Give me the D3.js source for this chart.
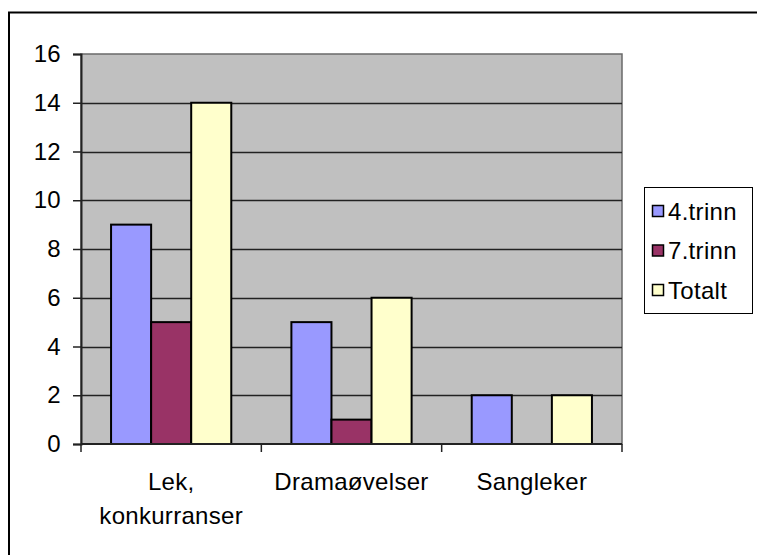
<!DOCTYPE html>
<html>
<head>
<meta charset="utf-8">
<script src="https://cdn.jsdelivr.net/npm/d3@7"></script>
<style>
  body { margin: 0; background: #fff; }
  svg { display: block; font-family: "Liberation Sans", Arial, sans-serif; }
  text { letter-spacing: 0.3px; }
</style>
</head>
<body>
<script>
// data
const categories = ["Lek, konkurranser", "Dramaøvelser", "Sangleker"];
const categoryLines = [["Lek,", "konkurranser"], ["Dramaøvelser"], ["Sangleker"]];
const seriesNames = ["4.trinn", "7.trinn", "Totalt"];
const trinn4 = [9, 5, 2];
const trinn7 = [5, 1, 0];
const totalt = [14, 6, 2];
const yTicks = [0, 2, 4, 6, 8, 10, 12, 14, 16];
const colors = ["#9999FF", "#993366", "#FFFFCC"];

const width = 757, height = 555;
const plot = {left: 81, top: 54, right: 622, bottom: 444};
const fontSize = 24;

const svg = d3.select("body").append("svg")
  .attr("width", width)
  .attr("height", height);

// chart area border (runs off the picture at right and bottom)
svg.append("rect")
  .attr("x", 9).attr("y", 12.5)
  .attr("width", 900).attr("height", 700)
  .attr("fill", "none")
  .attr("stroke", "#000")
  .attr("stroke-width", 2);

const x0 = d3.scaleBand().domain(categories).range([plot.left, plot.right]).padding(0);
const x1 = d3.scaleBand().domain(seriesNames).range([0, x0.bandwidth()]).paddingInner(0).paddingOuter(0.75);
const y = d3.scaleLinear().domain([0, 16]).range([plot.bottom, plot.top]);

// plot area
svg.append("rect")
  .attr("x", plot.left).attr("y", plot.top)
  .attr("width", plot.right - plot.left).attr("height", plot.bottom - plot.top)
  .attr("fill", "#C0C0C0")
  .attr("stroke", "#6a6a6a")
  .attr("stroke-width", 1.5);

// gridlines
svg.append("g").selectAll("line")
  .data(yTicks.filter(t => t > 0 && t < 16))
  .join("line")
  .attr("x1", plot.left).attr("x2", plot.right)
  .attr("y1", d => Math.round(y(d)) + 0.5).attr("y2", d => Math.round(y(d)) + 0.5)
  .attr("stroke", "#222")
  .attr("stroke-width", 1.3);

// bars
const rows = categories.map((c, i) => ({cat: c, vals: [trinn4[i], trinn7[i], totalt[i]]}));
const groups = svg.append("g").selectAll("g")
  .data(rows)
  .join("g")
  .attr("transform", d => `translate(${x0(d.cat)},0)`);

groups.selectAll("rect")
  .data(d => d.vals.map((v, j) => ({name: seriesNames[j], v, j})))
  .join("rect")
  .attr("x", d => x1(d.name))
  .attr("width", x1.bandwidth())
  .attr("y", d => y(d.v))
  .attr("height", d => y(0) - y(d.v))
  .attr("fill", d => colors[d.j])
  .attr("stroke", "#000")
  .attr("stroke-width", 2);

// y axis
const yAxis = svg.append("g")
  .attr("transform", `translate(${plot.left},0)`)
  .call(d3.axisLeft(y).tickValues(yTicks).tickSize(8).tickPadding(12));
yAxis.select(".domain").attr("stroke", "#222").attr("stroke-width", 2);
yAxis.selectAll(".tick line").attr("stroke", "#222").attr("stroke-width", 1.5);
yAxis.selectAll("text").attr("font-size", fontSize).attr("fill", "#000")
  .attr("font-family", "Liberation Sans, Arial, sans-serif");

// x axis
const xAxis = svg.append("g").attr("transform", `translate(0,${plot.bottom})`);
xAxis.append("line")
  .attr("x1", plot.left).attr("x2", plot.right)
  .attr("stroke", "#222").attr("stroke-width", 2);
const bounds = categories.map(c => x0(c)).concat([x0(categories[2]) + x0.bandwidth()]);
xAxis.selectAll(".xt")
  .data(bounds)
  .join("line")
  .attr("class", "xt")
  .attr("x1", d => d).attr("x2", d => d)
  .attr("y1", 0).attr("y2", 8)
  .attr("stroke", "#222").attr("stroke-width", 1.5);

const xLabels = xAxis.selectAll(".xl")
  .data(categories)
  .join("text")
  .attr("class", "xl")
  .attr("text-anchor", "middle")
  .attr("font-size", fontSize)
  .attr("fill", "#000");
xLabels.each(function(d, i) {
  const t = d3.select(this);
  categoryLines[i].forEach((line, k) => {
    t.append("tspan")
      .attr("x", x0(d) + x0.bandwidth() / 2)
      .attr("y", 46 + k * 34)
      .text(line);
  });
});

// legend
const legend = svg.append("g");
legend.append("rect")
  .attr("x", 644.5).attr("y", 187.5)
  .attr("width", 108).attr("height", 126)
  .attr("fill", "#fff")
  .attr("stroke", "#000")
  .attr("stroke-width", 1);
const legendRow = d3.scalePoint().domain(seriesNames).range([211, 290]);
const items = legend.selectAll(".li")
  .data(seriesNames)
  .join("g")
  .attr("class", "li")
  .attr("transform", d => `translate(0,${legendRow(d)})`);
items.append("rect")
  .attr("x", 652.5).attr("y", -5.5)
  .attr("width", 11).attr("height", 11)
  .attr("fill", (d, i) => colors[i])
  .attr("stroke", "#000")
  .attr("stroke-width", 1.5);
items.append("text")
  .attr("x", 668)
  .attr("y", 8.5)
  .attr("font-size", fontSize)
  .attr("fill", "#000")
  .text(d => d);
</script>
</body>
</html>
